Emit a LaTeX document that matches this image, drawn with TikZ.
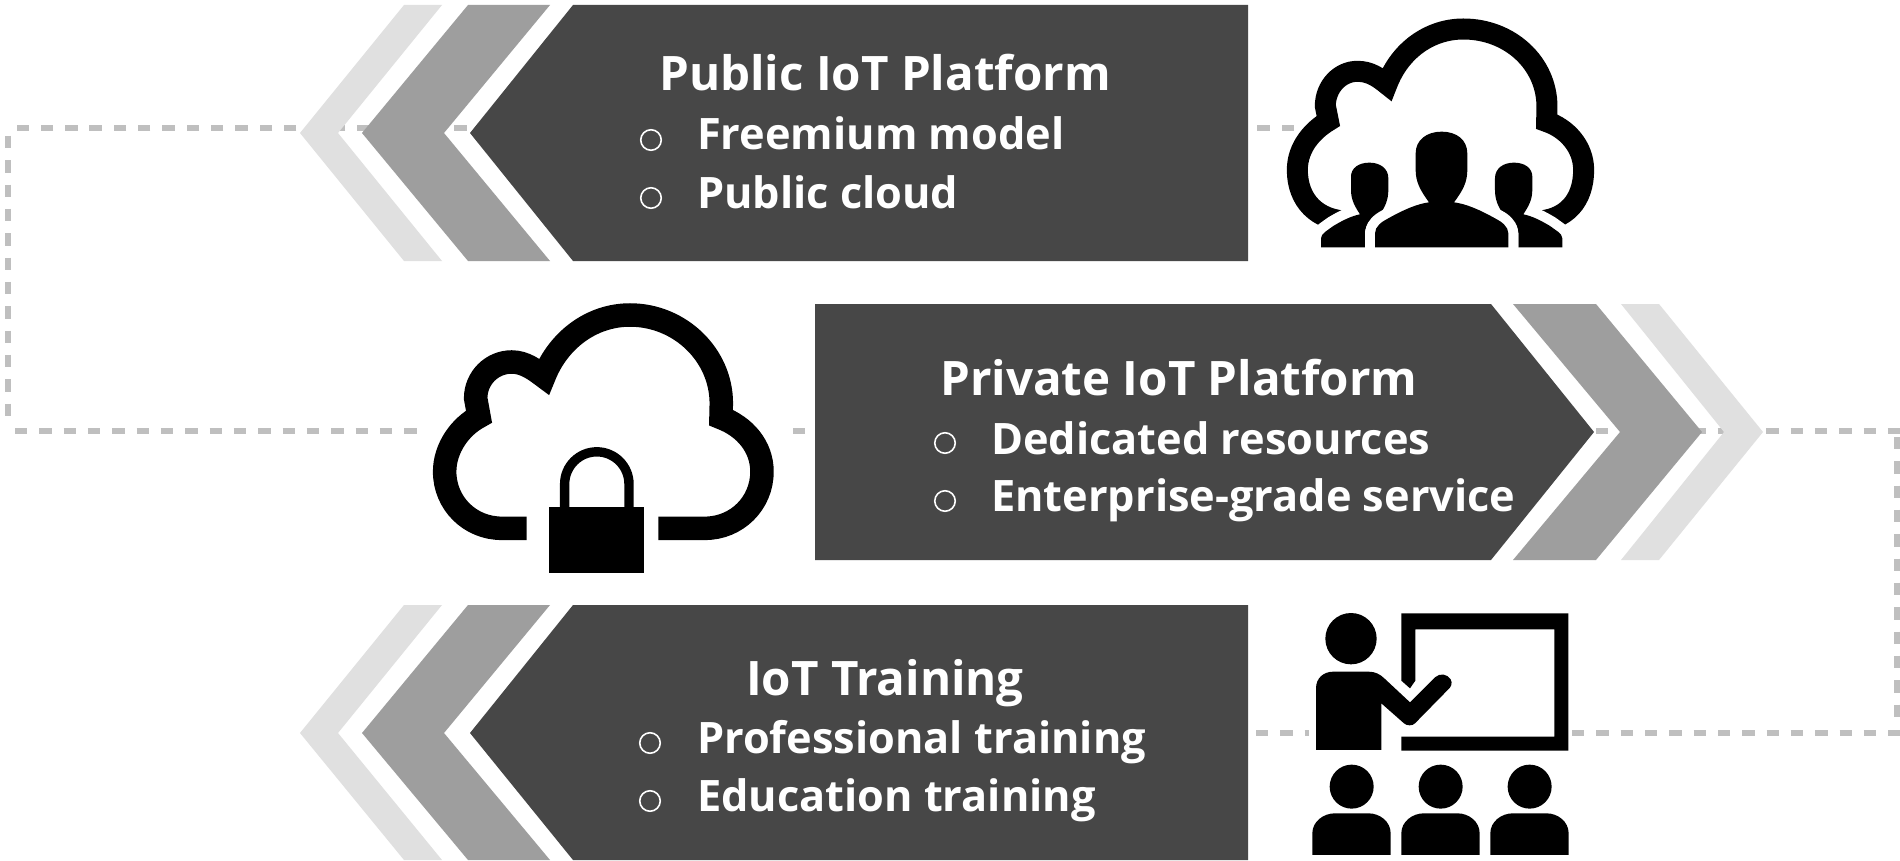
\documentclass[tikz,border=0pt]{standalone}
\usepackage{fontspec}
\setmainfont{Open Sans}
\definecolor{darkbox}{HTML}{474747}
\definecolor{midbox}{HTML}{9E9E9E}
\definecolor{lightbox}{HTML}{E0E0E0}
\definecolor{dashc}{HTML}{BFBFBF}
\newcommand{\titlefont}{\fontsize{47.5}{48}\selectfont\bfseries}
\newcommand{\itemfont}{\fontsize{43.3}{44}\selectfont\bfseries}
\tikzset{
  x=1pt,y=-1pt,
  linkline/.style={draw=dashc,line width=6pt,dash pattern=on 12.4pt off 11.93pt},
  darkshape/.style={fill=darkbox,draw=none},
  midshape/.style={fill=midbox,draw=none},
  lightshape/.style={fill=lightbox,draw=none},
  titletext/.style={text=white,inner sep=0pt,anchor=base,font=\titlefont},
  itemtext/.style={text=white,inner sep=0pt,anchor=base west,font=\itemfont},
  bulletmark/.style={circle,draw=white,line width=1.6pt,minimum size=20.5pt,inner sep=0pt},
  cloudline/.style={draw=black,line join=miter,miter limit=20},
  person/.style={fill=black,preaction={draw=white,line width=20pt,line join=round}}
}
\begin{document}
\begin{tikzpicture}
\useasboundingbox[fill=white] (0,0) rectangle (1900,861);
% link coordinates
\coordinate (t1) at (1294,128); \coordinate (t2) at (17,128);
\coordinate (l1) at (7.5,136); \coordinate (l2) at (7.5,416);
\coordinate (m1) at (15,431); \coordinate (m2) at (417,431);
\coordinate (m3) at (793,431); \coordinate (m4) at (820,431);
\coordinate (m5) at (1596,431); \coordinate (m6) at (1900,431);
\coordinate (r1) at (1897,437); \coordinate (r2) at (1897,717);
\coordinate (b1) at (1900,733); \coordinate (b2) at (1572,733);
\coordinate (b3) at (1309,733); \coordinate (b4) at (1256,733);
\draw[linkline] (t1)--(t2);
\draw[linkline] (l1)--(l2);
\draw[linkline] (m1)--(m2);
\draw[linkline] (m3)--(m4);
\draw[linkline] (m5)--(m6);
\draw[linkline] (r1)--(r2);
\draw[linkline] (b2)--(b1);
\draw[linkline] (b4)--(b3);
% top row
\fill[lightshape] (404,5)--(442,5)--(338,133)--(442,261)--(404,261)--(300,133)--cycle;
\fill[midshape] (468,5)--(550,5)--(444,133)--(550,261)--(468,261)--(362,133)--cycle;
\fill[darkshape] (573,5)--(1248,5)--(1248,261)--(573,261)--(470,133)--cycle;
% middle row
\fill[lightshape] (1621,304)--(1659,304)--(1763,432)--(1659,560)--(1621,560)--(1724,432)--cycle;
\fill[midshape] (1513,304)--(1596,304)--(1702,432)--(1596,560)--(1513,560)--(1620,432)--cycle;
\fill[darkshape] (815,304)--(1491,304)--(1594,432)--(1491,560)--(815,560)--cycle;
% bottom row
\fill[lightshape] (404,605)--(442,605)--(338,733)--(442,860)--(404,860)--(300,733)--cycle;
\fill[midshape] (468,605)--(550,605)--(444,733)--(550,860)--(468,860)--(362,733)--cycle;
\fill[darkshape] (573,605)--(1248,605)--(1248,860)--(573,860)--(470,733)--cycle;
% texts top
\node[titletext] (t0) at (885,91) {Public IoT Platform};
\node[bulletmark] (tb1) at (651,140) {};
\node[bulletmark] (tb2) at (651,198) {};
\node[itemtext] (ti1) at (697,150) {Freemium model};
\node[itemtext] (ti2) at (697,208) {Public cloud};
% texts middle
\node[titletext] (m0) at (1179,395) {Private IoT Platform};
\node[bulletmark] (mb1) at (945,443) {};
\node[bulletmark] (mb2) at (945,501) {};
\node[itemtext] (mi1) at (991,454) {Dedicated resources};
\node[itemtext] (mi2) at (991,511) {Enterprise-grade service};
% texts bottom
\node[titletext] (b0) at (885,695) {IoT Training};
\node[bulletmark] (bb1) at (650,743) {};
\node[bulletmark] (bb2) at (650,801) {};
\node[itemtext] (bi1) at (697,753) {Professional training};
\node[itemtext] (bi2) at (697,811) {Education training};
% cloud with people
\begin{scope}[shift={(1250,0)},x=0.3333pt,y=-0.3333pt]
\draw[cloudline,line width=21pt]
 (300,664) .. controls (200,664) and (142,600) .. (142,510)
 .. controls (142,440) and (190,390) .. (235,363) -- (226,318)
 .. controls (226,260) and (270,214) .. (322,214)
 .. controls (360,214) and (385,232) .. (411,253)
 .. controls (450,150) and (540,87) .. (640,87)
 .. controls (780,87) and (891,190) .. (891,320) -- (890,365)
 .. controls (950,385) and (1001,440) .. (1001,510)
 .. controls (1001,600) and (950,664) .. (850,664);
\fill[person] (213,742) -- (213,715) .. controls (213,700) and (235,690) .. (250,678)
 .. controls (280,660) and (305,648) .. (330,643) .. controls (315,620) and (303,600) .. (303,570)
 -- (303,530) .. controls (303,505) and (325,488) .. (358,488) .. controls (390,488) and (415,505) .. (415,535)
 -- (415,570) .. controls (415,600) and (405,620) .. (392,640) .. controls (370,650) and (345,670) .. (345,700)
 -- (345,742) -- cycle;
\fill[person] (937,742) -- (937,715) .. controls (937,700) and (915,690) .. (900,678)
 .. controls (870,660) and (845,648) .. (820,643) .. controls (835,620) and (847,600) .. (847,570)
 -- (847,530) .. controls (847,505) and (825,488) .. (792,488) .. controls (760,488) and (735,505) .. (735,535)
 -- (735,570) .. controls (735,600) and (745,620) .. (758,640) .. controls (780,650) and (805,670) .. (805,700)
 -- (805,742) -- cycle;
\fill[person] (375,742) -- (375,700) .. controls (375,680) and (395,665) .. (415,655)
 .. controls (460,630) and (500,612) .. (537,607) .. controls (510,570) and (497,545) .. (497,510)
 -- (497,460) .. controls (497,420) and (530,395) .. (575,395) .. controls (620,395) and (652,420) .. (652,460)
 -- (652,510) .. controls (652,545) and (640,570) .. (612,607) .. controls (650,612) and (690,630) .. (735,655)
 .. controls (755,665) and (775,680) .. (775,700) -- (775,742) -- cycle;
\end{scope}
% cloud with lock
\begin{scope}[shift={(410,290)},x=0.3333pt,y=-0.3333pt]
\draw[cloudline,line width=23.5pt]
 (350,715) -- (275,715) .. controls (180,715) and (104,640) .. (104,545)
 .. controls (104,475) and (150,410) .. (207,380) -- (197,325)
 .. controls (197,265) and (245,216) .. (305,216)
 .. controls (345,216) and (375,240) .. (402,260)
 .. controls (445,150) and (545,75) .. (660,75)
 .. controls (810,75) and (934,195) .. (934,340) -- (933,383)
 .. controls (1005,410) and (1056,470) .. (1056,545)
 .. controls (1056,640) and (980,715) .. (885,715) -- (745,715);
\draw[black,line width=9.4pt] (464,652) -- (464,582) arc[start angle=180,end angle=360,radius=96.5] -- (657,652);
\fill[black] (418,652) rectangle (703,850);
\end{scope}
% teacher icon
\begin{scope}[shift={(1240,590)},x=0.3333pt,y=-0.3333pt]
\fill[black] (333,146) circle[radius=77];
\fill[black] (228,480) -- (228,295) .. controls (228,265) and (250,245) .. (280,245) -- (385,245)
 .. controls (405,245) and (420,252) .. (435,267) -- (510,337) -- (585,262)
 .. controls (600,248) and (622,252) .. (632,268) .. controls (638,280) and (634,290) .. (625,298)
 -- (525,400) .. controls (518,408) and (500,408) .. (492,400) -- (424,340) -- (424,480) -- cycle;
\fill[black] (484,70) -- (985,70) -- (985,482) -- (484,482) -- (484,440) -- (943,440) -- (943,118)
 -- (526,118) -- (526,272) -- (510,295) -- (484,272) -- cycle;
\foreach \dx in {0,267,534}{
 \fill[black] (335+\dx,590) circle[radius=66];
 \fill[black] (217+\dx,795) -- (217+\dx,730) .. controls (217+\dx,695) and (250+\dx,670) .. (285+\dx,670)
  -- (385+\dx,670) .. controls (420+\dx,670) and (452+\dx,695) .. (452+\dx,730) -- (452+\dx,795) -- cycle;
}
\end{scope}
\end{tikzpicture}
\end{document}
